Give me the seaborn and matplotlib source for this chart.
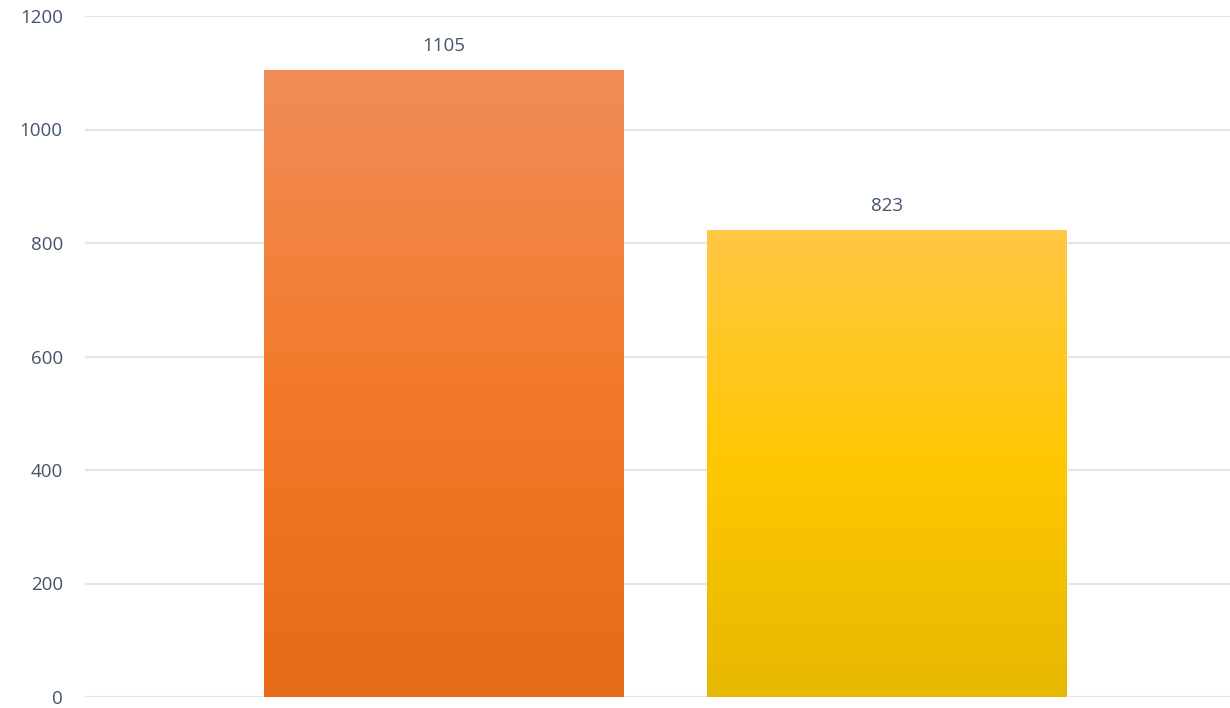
import numpy as np
import pandas as pd
import matplotlib.pyplot as plt
import seaborn as sns
from matplotlib.colors import LinearSegmentedColormap

# Daten
kategorien = ["A", "B"]
werte = [1105, 823]
# Verlauf je Balken: oben, Mitte, unten
verlauf = [
    ["#F08D58", "#F47A2A", "#E56B17"],
    ["#FFC745", "#FFC800", "#E6B800"],
]

df = pd.DataFrame({"kategorie": kategorien, "wert": werte})

sns.set_theme(style="white")
plt.rcParams['font.family'] = ['Open Sans', 'DejaVu Sans']
textfarbe = "#44546A"

fig = plt.figure(figsize=(12.3, 7.08), dpi=100)
ax = fig.add_axes([85 / 1230, 11 / 708, 1 - 85 / 1230, (697 - 16) / 708])

sns.barplot(data=df, x="kategorie", y="wert", ax=ax, width=0.81,
            color="#F47A2A", saturation=1, zorder=2)

ax.set_ylim(0, 1200)
ax.set_xlim(-0.808, 1.773)
ax.set_yticks(np.arange(0, 1201, 200))
ax.yaxis.grid(True, color="#E1E5EA", linewidth=1.5, zorder=0)
ax.set_axisbelow(True)
for s in ax.spines.values():
    s.set_visible(False)
ax.set_xticks([])
ax.set_xlabel("")
ax.set_ylabel("")
ax.tick_params(axis="y", length=0, pad=16, labelsize=13.5, labelcolor=textfarbe)

# Verlauf in die Balken legen
for patch, farben, w in zip(ax.patches, verlauf, werte):
    x0 = patch.get_x()
    x1 = x0 + patch.get_width()
    cmap = LinearSegmentedColormap.from_list("g", farben[::-1])
    grad = np.linspace(0, 1, 256).reshape(-1, 1)
    im = ax.imshow(grad, cmap=cmap, origin="lower", aspect="auto",
                   extent=[x0, x1, 0, w], zorder=3)
    im.set_clip_path(patch)
    ax.text(x0 + patch.get_width() / 2, w + 26, f"{w}", ha="center", va="bottom",
            fontsize=13.5, color=textfarbe)

ax.set_xlim(-0.808, 1.773)
ax.set_ylim(0, 1200)

plt.savefig("out.png", dpi=100)
